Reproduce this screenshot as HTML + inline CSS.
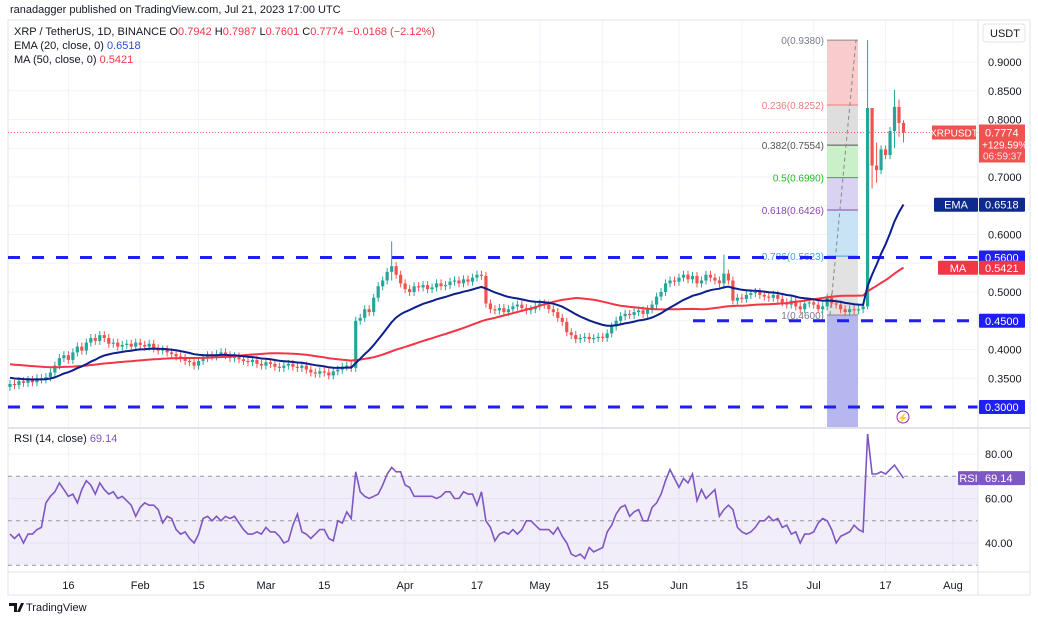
<!DOCTYPE html>
<html><head><meta charset="utf-8"><style>
body{margin:0;background:#fff;font-family:"Liberation Sans",sans-serif}
svg text{font-family:"Liberation Sans",sans-serif}
</style></head><body>
<svg id="c" width="1038" height="622" xmlns="http://www.w3.org/2000/svg">
<text x="10" y="13" font-size="11" fill="#131722">ranadagger published on TradingView.com, Jul 21, 2023 17:00 UTC</text>
<rect x="8" y="20" width="1022" height="575" fill="none" stroke="#e0e3eb"/>
<g id="grid"></g>
<g id="fib"></g>
<g id="lines"></g>
<g id="candles"></g>
<g id="ind"></g>
<g id="rsi"></g>
<g id="axes"></g>
<g id="hdr">
<text x="14" y="35" font-size="11" fill="#131722">XRP / TetherUS, 1D, BINANCE <tspan fill="#131722">O</tspan><tspan fill="#f23645">0.7942</tspan> <tspan fill="#131722">H</tspan><tspan fill="#f23645">0.7987</tspan> <tspan fill="#131722">L</tspan><tspan fill="#f23645">0.7601</tspan> <tspan fill="#131722">C</tspan><tspan fill="#f23645">0.7774 −0.0168 (−2.12%)</tspan></text>
<text x="14" y="49" font-size="11" fill="#131722">EMA (20, close, 0) <tspan fill="#2a4bd7">0.6518</tspan></text>
<text x="14" y="63" font-size="11" fill="#131722">MA (50, close, 0) <tspan fill="#f23645">0.5421</tspan></text>
<text x="14" y="442" font-size="11" fill="#131722">RSI (14, close) <tspan fill="#7e57c2">69.14</tspan></text>
</g>
</svg>
<script>
const closes=[0.340,0.338,0.345,0.342,0.347,0.343,0.350,0.348,0.352,0.360,
0.372,0.385,0.390,0.382,0.395,0.405,0.398,0.412,0.420,0.415,
0.425,0.420,0.410,0.412,0.405,0.408,0.410,0.405,0.412,0.408,
0.405,0.410,0.402,0.398,0.400,0.395,0.392,0.388,0.385,0.380,
0.378,0.372,0.380,0.385,0.390,0.388,0.392,0.395,0.390,0.385,
0.388,0.383,0.380,0.378,0.382,0.375,0.372,0.378,0.375,0.370,
0.368,0.372,0.375,0.370,0.368,0.372,0.365,0.360,0.358,0.362,
0.360,0.355,0.362,0.365,0.370,0.372,0.368,0.450,0.455,0.470,
0.465,0.490,0.510,0.520,0.535,0.545,0.530,0.515,0.505,0.500,
0.510,0.508,0.512,0.505,0.508,0.515,0.510,0.512,0.518,0.520,
0.515,0.522,0.518,0.525,0.530,0.528,0.480,0.470,0.468,0.472,
0.465,0.470,0.475,0.478,0.472,0.468,0.470,0.475,0.480,0.478,
0.470,0.465,0.455,0.448,0.430,0.425,0.418,0.420,0.422,0.418,
0.420,0.422,0.420,0.428,0.440,0.450,0.458,0.462,0.460,0.465,
0.468,0.462,0.470,0.478,0.492,0.500,0.515,0.520,0.518,0.525,
0.530,0.522,0.528,0.515,0.520,0.530,0.525,0.520,0.515,0.532,
0.520,0.485,0.490,0.488,0.495,0.498,0.500,0.495,0.492,0.490,
0.495,0.488,0.482,0.478,0.485,0.475,0.470,0.480,0.482,0.478,
0.470,0.475,0.490,0.480,0.478,0.470,0.465,0.470,0.468,0.470,
0.475,0.820,0.720,0.712,0.748,0.738,0.780,0.822,0.794,0.7774];
const rsiVals=[44,42,44,40,44,44,46,47,58,61,
63,67,64,61,62,58,64,68,66,62,
67,64,62,63,60,61,59,57,52,56,
58,57,57,55,49,52,51,46,44,45,
42,40,44,51,52,50,52,50,52,51,
52,49,46,44,44,45,44,47,45,45,
43,40,41,48,53,45,44,42,44,46,
46,42,41,50,49,54,51,72,63,61,
60,61,62,66,71,74,72,72,66,65,
61,61,61,61,61,60,61,63,63,60,
60,63,62,62,57,63,50,47,41,44,
45,44,46,44,46,50,50,48,46,46,
46,44,47,43,40,35,34,35,33,38,
36,37,38,45,48,53,56,57,52,54,
55,50,50,56,58,62,68,73,69,65,
69,67,71,59,64,60,62,64,52,55,
57,55,47,45,44,45,47,50,50,52,
50,51,47,48,44,45,40,44,44,45,
49,51,50,46,40,43,44,45,48,46,
45,89,71,71,72,71,73,75,72,69.14];
const firstOpen=0.335;
const bigWickIdx=[85,159,191,192,193,197,198,199];
const bigWickHi=[0.588,0.565,0.938,0.800,0.760,0.852,0.835,0.7987];
const bigWickLo=[0.520,0.505,0.470,0.680,0.690,0.750,0.770,0.7601];
const priceTicks=[0.35,0.40,0.45,0.50,0.55,0.60,0.65,0.70,0.75,0.80,0.85,0.90];
const priceTickShown=[0.35,0.40,0.50,0.60,0.70,0.80,0.85,0.90];
const rsiTicks=[40,60,80];
const timeLabels=["16","Feb","15","Mar","15","Apr","17","May","15","Jun","15","Jul","17","Aug"];
const timeIdx=[13,29,42,57,70,88,104,118,132,149,163,179,195,210];
const fibRatios=[0,0.236,0.382,0.5,0.618,0.786,1];
const fibHigh=0.938, fibLow=0.46;
const supports=[0.56,0.45,0.30];
const emaLast=0.6518, maLast=0.5421, rsiLast=69.14, lastPrice=0.7774;

const NS="http://www.w3.org/2000/svg";
const px=i=>10+i*4.49;
const py=p=>62+(0.9-p)*575;
const ry=r=>454+(80-r)*2.225;
function mk(g,t,a){const e=document.createElementNS(NS,t);for(const k in a)e.setAttribute(k,a[k]);document.getElementById(g).appendChild(e);return e;}
const PR=978;
priceTicks.forEach(p=>{const l=mk('grid','line',{x1:8,x2:PR,y1:py(p),y2:py(p),stroke:'#f0f3fa'});

});
rsiTicks.forEach(r=>{const l=mk('grid','line',{x1:8,x2:PR,y1:ry(r),y2:ry(r),stroke:'#f0f3fa'});

});
timeIdx.forEach(i=>{const l=mk('grid','line',{x1:px(i),x2:px(i),y1:20,y2:572,stroke:'#f0f3fa'});

});
const fx0=827,fx1=858;
const fibFill=['#f8cccc','#dedede','#c9f0c9','#d9d2f1','#c7e3f4','#e2e2e2'];
const fibTxt=['#787b86','#f07c7c','#555','#22bb22','#8e44ad','#3fa0e0','#787b86'];
const fibLine=['#888','#f07c7c','#555','#22bb22','#8e44ad','#3fa0e0','#888'];
const fp=r=>fibHigh-(fibHigh-fibLow)*r;
for(let k=0;k<6;k++){const a=py(fp(fibRatios[k])),b=py(fp(fibRatios[k+1]));
const r=mk('fib','rect',{x:fx0,y:a,width:fx1-fx0,height:b-a,fill:fibFill[k]});

}
{const a=py(fibLow);const r=mk('fib','rect',{x:fx0,y:a,width:fx1-fx0,height:427-a,fill:'#b7b7f0'});

}
fibRatios.forEach((f,k)=>{const y=py(fp(f));
const l=mk('fib','line',{x1:fx0,x2:fx1,y1:y,y2:y,stroke:fibLine[k]});


const t=mk('fib','text',{x:fx0-3,y:y+4,'font-size':10,'text-anchor':'end',fill:fibTxt[k]});
t.textContent=f+'('+fp(f).toFixed(4)+')';

});
{const l=mk('fib','line',{x1:830,y1:py(fibLow),x2:856,y2:py(fibHigh),stroke:'#888','stroke-dasharray':'4 3'});

}
supports.forEach((s,k)=>{const l=mk('lines','line',{x1:k==1?693:8,x2:PR,y1:py(s),y2:py(s),stroke:'#1f1ff5','stroke-width':3,'stroke-dasharray':'12 12'});

});
{const l=mk('lines','line',{x1:8,x2:PR,y1:py(lastPrice),y2:py(lastPrice),stroke:'#f23645','stroke-dasharray':'1 2','stroke-width':0.8});

}
closes.forEach((c,i)=>{const o=i?closes[i-1]:firstOpen;const up=c>=o;const col=up?'#26a69a':'#ef5350';
let hi=Math.max(o,c)+0.007,lo=Math.min(o,c)-0.007;const w=bigWickIdx.indexOf(i);if(w>=0){hi=bigWickHi[w];lo=bigWickLo[w];}
const x=px(i);const l=mk('candles','line',{x1:x,x2:x,y1:py(hi),y2:py(lo),stroke:col,'stroke-width':1});


const y1=py(Math.max(o,c)),y2=py(Math.min(o,c));
const r=mk('candles','rect',{x:x-1.6,y:y1,width:3.2,height:Math.max(1,y2-y1),fill:col});

});
const ema=[];let e=0.352;closes.forEach((c,i)=>{e=e+(c-e)*2/21;ema.push(e);});
const ma=[];closes.forEach((c,i)=>{let s=0;for(let k=i-49;k<=i;k++)s+=k<0?0.375:closes[k];ma.push(s/50);});
function path(arr,f){return arr.map((v,i)=>(i?'L':'M')+px(i).toFixed(1)+' '+f(v).toFixed(1)).join(' ');}
{const p=mk('ind','path',{d:path(ma,py),fill:'none',stroke:'#f23645','stroke-width':2});


const q=mk('ind','path',{d:path(ema,py),fill:'none',stroke:'#0d1f8c','stroke-width':2});

}
{const b=mk('rsi','rect',{x:8,y:ry(70),width:PR-8,height:ry(30)-ry(70),fill:'#7e57c2','fill-opacity':0.1});


[70,50,30].forEach(v=>{const l=mk('rsi','line',{x1:8,x2:PR,y1:ry(v),y2:ry(v),stroke:'#9598a1','stroke-dasharray':'4 4'});

});
const p=mk('rsi','path',{d:path(rsiVals,ry),fill:'none',stroke:'#7e57c2','stroke-width':1.6});

}
function ax(t,a,txt,name,inter){const e=mk('axes',t,a);if(txt!==undefined)e.textContent=txt;return e;}
ax('line',{x1:PR,x2:PR,y1:20,y2:595,stroke:'#e0e3eb'},undefined,'price-axis-border','false');
ax('line',{x1:8,x2:1030,y1:428,y2:428,stroke:'#e0e3eb','stroke-width':2},undefined,'pane-separator','true');
ax('line',{x1:8,x2:1030,y1:572,y2:572,stroke:'#e0e3eb'},undefined,'time-axis-border','false');
priceTickShown.forEach(p=>ax('text',{x:988,y:py(p)+4,'font-size':11,fill:'#131722'},p.toFixed(4),'price-tick-label','false'));
rsiTicks.forEach(r=>ax('text',{x:985,y:ry(r)+4,'font-size':11,fill:'#131722'},r.toFixed(2),'rsi-tick-label','false'));
timeLabels.forEach((t,k)=>ax('text',{x:px(timeIdx[k]),y:589,'font-size':11,fill:'#131722','text-anchor':'middle'},t,'time-tick-label','false'));
ax('rect',{x:983,y:24,width:42,height:18,rx:3,fill:'#fff',stroke:'#e0e3eb'},undefined,'currency-button','true');
ax('text',{x:990,y:37,'font-size':11,fill:'#131722'},'USDT','currency-label','false');
function tag(y,h,col,lbl,val,name){
 if(lbl){ax('rect',{x:lbl[0],y:y,width:lbl[1],height:h,fill:col,rx:1},undefined,name+'-tag','false');
 ax('text',{x:lbl[0]+lbl[1]/2,y:y+h/2+4,'font-size':11,fill:'#fff','text-anchor':'middle'},lbl[2],name+'-tag-text','false');}
 ax('rect',{x:979,y:y,width:46,height:h,fill:col,rx:1},undefined,name+'-price-tag','false');
 ax('text',{x:985,y:y+h/2+4,'font-size':11,fill:'#fff'},val,name+'-price-text','false');}
tag(py(emaLast)-7,14,'#0d2b8c',[934,44,'EMA'],emaLast.toFixed(4),'ema');
tag(py(supports[0])-7,14,'#1f1ff5',null,supports[0].toFixed(4),'support-056');
tag(py(maLast)-7,14,'#f23645',[938,40,'MA'],maLast.toFixed(4),'ma');
tag(py(supports[1])-7,14,'#1f1ff5',null,supports[1].toFixed(4),'support-045');
tag(py(supports[2])-7,14,'#1f1ff5',null,supports[2].toFixed(4),'support-030');
tag(ry(rsiLast)-7,14,'#7e57c2',[958,21,'RSI'],rsiLast.toFixed(2),'rsi');
{const y=py(lastPrice);
ax('rect',{x:932,y:y-7,width:44,height:14,fill:'#ef5350'},undefined,'symbol-tag','false');
ax('text',{x:954,y:y+4,'font-size':10,fill:'#fff','text-anchor':'middle'},'XRPUSDT','symbol-tag-text','false');
ax('rect',{x:979,y:y-8,width:46,height:38,fill:'#ef5350'},undefined,'last-price-tag','false');
ax('text',{x:985,y:y+4,'font-size':11,fill:'#fff'},lastPrice.toFixed(4),'last-price-text','false');
ax('text',{x:982,y:y+16,'font-size':10,fill:'#fff'},'+129.59%','change-text','false');
ax('text',{x:983,y:y+27,'font-size':10,fill:'#fde'},'06:59:37','countdown-text','false');}
ax('circle',{cx:903,cy:417,r:6,fill:'#fff',stroke:'#9c27b0'},undefined,'event-icon','true');
ax('text',{x:903,y:421,'font-size':9,fill:'#9c27b0','text-anchor':'middle'},'⚡','event-icon-glyph','false');
ax('text',{x:26,y:611,'font-size':11,fill:'#131722'},'TradingView','tradingview-logo-text','false');
ax('path',{d:'M9 603h8v9h-3v-6h-5zM17 612l4-9h3l-4 9z',fill:'#131722'},undefined,'tradingview-logo-icon','false');
</script>
</body></html>
